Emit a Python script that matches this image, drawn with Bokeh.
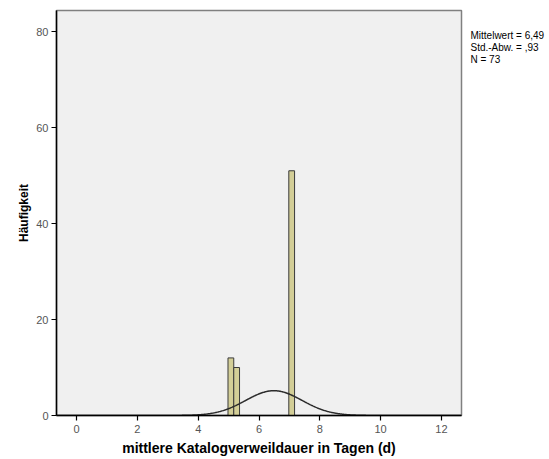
import numpy as np
from bokeh.plotting import figure
from bokeh.models import Range1d, FixedTicker, Label
from bokeh.embed import file_html
from bokeh.resources import INLINE

# Histogram bins (days) and frequencies
bin_left = [4.98, 5.17, 6.98]
bin_right = [5.17, 5.36, 7.17]
counts = [12, 10, 51]

# Summary statistics shown next to the plot
mean = 6.49
std = 0.93
n_total = 73
curve_bin_width = 0.165

x_ticks = [0, 2, 4, 6, 8, 10, 12]
y_ticks = [0, 20, 40, 60, 80]

FONT = "Liberation Sans"

p = figure(
    width=549, height=459,
    frame_width=405, frame_height=405,
    min_border_left=56, min_border_right=88,
    min_border_top=10, min_border_bottom=44,
    x_range=Range1d(-0.66, 12.66), y_range=Range1d(0, 84.4),
    output_backend="svg", toolbar_location=None,
)

p.background_fill_color = "#f0f0f0"
p.border_fill_color = "white"
p.outline_line_color = "#808080"
p.outline_line_width = 1.5
p.xgrid.visible = False
p.ygrid.visible = False

# Bars
p.quad(left=bin_left, right=bin_right, bottom=0, top=counts,
       fill_color="#d3ce97", line_color="#3a3a3a", line_width=1)

# Fitted normal curve, scaled to frequencies
xs = np.linspace(-0.66, 12.66, 600)
ys = n_total * curve_bin_width * np.exp(-0.5 * ((xs - mean) / std) ** 2) / (std * np.sqrt(2 * np.pi))
p.line(xs, ys, line_color="#2b2b2b", line_width=1.5)

# Axes
for ax in (p.xaxis[0], p.yaxis[0]):
    ax.axis_line_color = "black"
    ax.axis_line_width = 1.5
    ax.major_tick_line_color = "black"
    ax.major_tick_line_width = 1.2
    ax.major_tick_in = 0
    ax.major_tick_out = 5
    ax.minor_tick_line_color = None
    ax.major_label_text_font = FONT
    ax.major_label_text_font_size = "11px"
    ax.major_label_text_color = "#555555"
    ax.axis_label_text_font = FONT
    ax.axis_label_text_font_style = "bold"
    ax.axis_label_text_color = "black"

p.xaxis.axis_label_text_font_size = "14px"
p.yaxis.axis_label_text_font_size = "12px"
p.xaxis.ticker = FixedTicker(ticks=x_ticks)
p.yaxis.ticker = FixedTicker(ticks=y_ticks)
p.xaxis.axis_label = "mittlere Katalogverweildauer in Tagen (d)"
p.yaxis.axis_label = "Häufigkeit"
p.xaxis.major_label_standoff = 4
p.xaxis.axis_label_standoff = 4
p.yaxis.major_label_standoff = 3
p.yaxis.axis_label_standoff = 2

# Statistics block in the right-hand side panel
stats_lines = ["Mittelwert = 6,49", "Std.-Abw. = ,93", "N = 73"]
p.add_layout(Label(x=9, y=385.5, x_units="screen", y_units="screen",
                   text="\n".join(stats_lines), text_font=FONT,
                   text_font_size="10px", text_color="black",
                   text_line_height=1.07,
                   text_baseline="top", text_align="left"), "right")

open("out.html", "w").write(file_html(p, INLINE))
